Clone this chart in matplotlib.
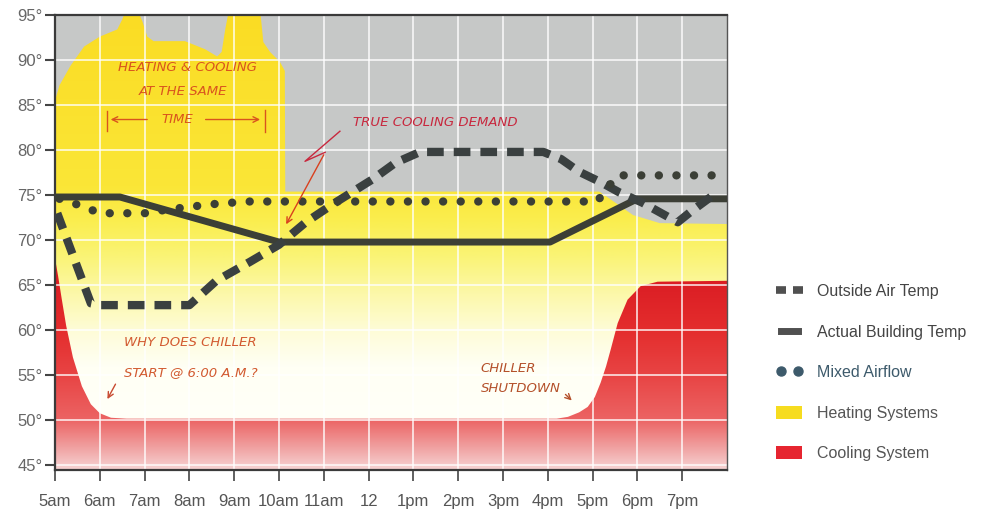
import matplotlib
matplotlib.use("Agg")
import matplotlib.pyplot as plt
import numpy as np
from matplotlib.lines import Line2D
from matplotlib.patches import Patch

plt.rcParams["font.family"] = ["Liberation Sans", "DejaVu Sans"]

# hours of the day, 5 = 5am ... 20 = 8pm
hour_ticks = [5, 6, 7, 8, 9, 10, 11, 12, 13, 14, 15, 16, 17, 18, 19]
hour_labels = ["5am", "6am", "7am", "8am", "9am", "10am", "11am", "12",
               "1pm", "2pm", "3pm", "4pm", "5pm", "6pm", "7pm"]
temp_ticks = [45, 50, 55, 60, 65, 70, 75, 80, 85, 90, 95]

outside_x = [5.05, 5.8, 6.0, 8.0, 8.6, 9.35, 10.0, 10.6, 11.2, 12.1, 12.6, 13.15,
             15.9, 16.3, 16.7, 17.2, 17.6, 18.1, 18.9, 19.2, 19.8]
outside_t = [73.0, 63.0, 62.8, 62.8, 65.5, 67.6, 69.5, 72.0, 74.0, 76.8, 78.6, 79.8,
             79.8, 79.0, 77.6, 76.4, 75.3, 74.2, 72.0, 73.2, 75.4]

building_x = [5.0, 6.45, 10.0, 16.05, 18.0, 20.0]
building_t = [74.8, 74.8, 69.8, 69.8, 74.6, 74.6]

mixed_x = [5.1, 5.6, 6.0, 7.0, 7.5, 8.5, 9.3, 17.1, 17.55, 20.0]
mixed_t = [74.6, 73.8, 73.0, 73.0, 73.4, 74.0, 74.3, 74.3, 77.2, 77.2]

heat_x = [5.0, 5.1, 5.35, 5.65, 6.0, 6.39, 6.5, 6.58, 6.85, 6.95, 7.06, 7.2, 7.9,
          8.35, 8.62, 8.72, 8.8, 8.88, 9.58, 9.65, 9.8, 10.02, 10.13, 10.14,
          17.15, 17.5, 17.9, 18.5, 20.0]
heat_top = [85.5, 87.2, 89.4, 91.5, 92.6, 93.4, 94.5, 95.5, 95.5, 94.3, 92.6, 92.1, 92.1,
            91.2, 90.4, 90.9, 93.4, 95.5, 95.5, 92.0, 90.9, 89.8, 88.8, 75.4,
            75.4, 74.2, 72.8, 71.9, 71.8]

cool_x = [5.0, 5.07, 5.15, 5.25, 5.4, 5.6, 5.8, 6.0, 6.25, 6.6, 16.2, 16.45, 16.7,
          16.89, 17.05, 17.18, 17.3, 17.4, 17.56, 17.78, 18.07, 18.45, 20.0]
cool_top = [68.0, 66.0, 63.5, 60.5, 57.0, 53.8, 51.8, 50.8, 50.3, 50.2, 50.2, 50.4, 50.9,
            51.5, 52.6, 54.2, 56.0, 57.8, 60.8, 63.4, 64.9, 65.4, 65.5]

YMIN, YMAX = 44.5, 95.0


def _gradient(stops_t, stops_rgb, n=400):
    t = np.linspace(YMIN, YMAX + 0.5, n)
    rgb = np.array(stops_rgb, dtype=float) / 255.0
    img = np.stack([np.interp(t, stops_t, rgb[:, k]) for k in range(3)], axis=-1)
    return img[:, None, :]


def _clipped_fill(ax, xs, top, img, z):
    poly = ax.fill_between(xs, YMIN - 1, top, facecolor="none", edgecolor="none")
    im = ax.imshow(img, extent=(5, 20, YMIN, YMAX + 0.5), origin="lower",
                   aspect="auto", zorder=z, interpolation="bilinear")
    im.set_clip_path(poly.get_paths()[0], transform=ax.transData)
    return im


fig = plt.figure(figsize=(9.82, 5.19), dpi=100)
ax = fig.add_axes([55 / 982, 49 / 519, 672 / 982, 455 / 519])
ax.set_facecolor("#c6c8c7")

heat_img = _gradient(
    [44.5, 56, 60, 64, 68, 72, 76, 95.5],
    [(255, 255, 252), (255, 255, 244), (254, 252, 215), (252, 248, 170),
     (250, 244, 120), (250, 238, 80), (251, 230, 55), (250, 220, 35)],
)
_clipped_fill(ax, heat_x, heat_top, heat_img, 0.5)

cool_img = _gradient(
    [44.5, 47, 50, 55, 60, 66, 95.5],
    [(246, 212, 212), (240, 160, 160), (236, 100, 100), (232, 68, 68),
     (228, 45, 45), (218, 28, 35), (218, 28, 35)],
)
_clipped_fill(ax, cool_x, cool_top, cool_img, 0.8)

ax.set_axisbelow("line")
ax.grid(True, color="white", linewidth=1.2, alpha=0.85)

ax.plot(building_x, building_t, color="#3c3f36", linewidth=5, solid_capstyle="butt", zorder=4)
dash, = ax.plot(outside_x, outside_t, color="#3a4040", linewidth=6, zorder=5)
dash.set_dashes([2.0, 1.2])
dash.set_dash_capstyle("butt")
dots, = ax.plot(mixed_x, mixed_t, color="#3b3f36", linewidth=6, zorder=6)
dots.set_dashes([0.01, 2.1])
dots.set_dash_capstyle("round")

ax.set_xlim(5, 20)
ax.set_ylim(YMIN, YMAX)
ax.set_xticks(hour_ticks)
ax.set_xticklabels(hour_labels)
ax.set_yticks(temp_ticks)
ax.set_yticklabels([f"{t}°" for t in temp_ticks])
ax.tick_params(axis="x", direction="out", length=8, width=1.2, color="#444",
               pad=9, labelsize=12, labelcolor="#555")
ax.tick_params(axis="y", direction="out", length=7, width=1.5, color="#444",
               pad=2, labelsize=12, labelcolor="#666")
for tick in ax.yaxis.get_major_ticks():
    if tick.get_loc() == 50:
        tick.tick1line.set_color("#2fa0b0")
for side in ["left", "bottom", "top"]:
    ax.spines[side].set_color("#3a3a3a")
    ax.spines[side].set_linewidth(1.6)
ax.spines["right"].set_color("#555")
ax.spines["right"].set_linewidth(1.0)

# handwritten notes
orange = "#d9541e"
note = dict(fontsize=9.5, style="italic", family=["DejaVu Sans"], zorder=8)
ax.text(7.95, 89.2, "HEATING & COOLING", color=orange, ha="center", va="center", **note)
ax.text(7.86, 86.5, "AT THE SAME", color=orange, ha="center", va="center", **note)
ax.text(7.72, 83.4, "TIME", color=orange, ha="center", va="center", **note)
ax.annotate("", xy=(6.18, 83.4), xytext=(7.12, 83.4), zorder=8,
            arrowprops=dict(arrowstyle="->", color=orange, lw=1.0))
ax.annotate("", xy=(9.64, 83.4), xytext=(8.3, 83.4), zorder=8,
            arrowprops=dict(arrowstyle="->", color=orange, lw=1.0))
ax.plot([6.16, 6.16], [82.1, 84.3], color=orange, lw=1.0, zorder=8)
ax.plot([9.69, 9.69], [82.0, 84.5], color=orange, lw=1.0, zorder=8)

crimson = "#c8283e"
ax.text(13.5, 83.1, "TRUE COOLING DEMAND", color=crimson, ha="center", va="center", **note)
ax.plot([11.36, 10.58, 11.03], [82.1, 78.76, 79.76], color=crimson, lw=1.0, zorder=8)
ax.annotate("", xy=(10.13, 71.5), xytext=(11.03, 79.76), zorder=8,
            arrowprops=dict(arrowstyle="->", color="#d9401e", lw=1.0))

ax.text(6.54, 58.6, "WHY DOES CHILLER", color="#d25a30", ha="left", va="center", **note)
ax.text(6.54, 55.3, "START @ 6:00 A.M.?", color="#d25a30", ha="left", va="center", **note)
ax.annotate("", xy=(6.14, 52.1), xytext=(6.38, 54.3), zorder=8,
            arrowprops=dict(arrowstyle="->", color="#c84a30", lw=1.0))

ax.text(14.5, 55.8, "CHILLER", color="#b4502a", ha="left", va="center", **note)
ax.text(14.5, 53.6, "SHUTDOWN", color="#b4502a", ha="left", va="center", **note)
ax.annotate("", xy=(16.58, 52.0), xytext=(16.35, 53.1), zorder=8,
            arrowprops=dict(arrowstyle="->", color="#b4502a", lw=1.0))

handles = [
    Line2D([0], [0], color="#505050", linestyle="none", marker="_",
           markersize=7.5, markeredgewidth=5.5),
    Line2D([0], [0], color="#505050", linewidth=5),
    Line2D([0], [0], color="#3d5a6b", linestyle="none", marker="o", markersize=6.5),
    Patch(facecolor="#f6dc1f", edgecolor="none"),
    Patch(facecolor="#e62530", edgecolor="none"),
]
labels = ["Outside Air Temp", "Actual Building Temp", "Mixed Airflow",
          "Heating Systems", "Cooling System"]
leg = ax.legend(handles, labels, loc="upper left", bbox_to_anchor=(776 / 982, 1 - 284 / 519),
                bbox_transform=fig.transFigure, frameon=False, fontsize=11.5,
                handlelength=1.65, handleheight=0.85, handletextpad=0.9,
                labelspacing=1.6, borderpad=0, borderaxespad=0, numpoints=2)
for txt, col in zip(leg.get_texts(), ["#444", "#444", "#3d5a6b", "#555", "#555"]):
    txt.set_color(col)

fig.savefig("out.png", dpi=100)
